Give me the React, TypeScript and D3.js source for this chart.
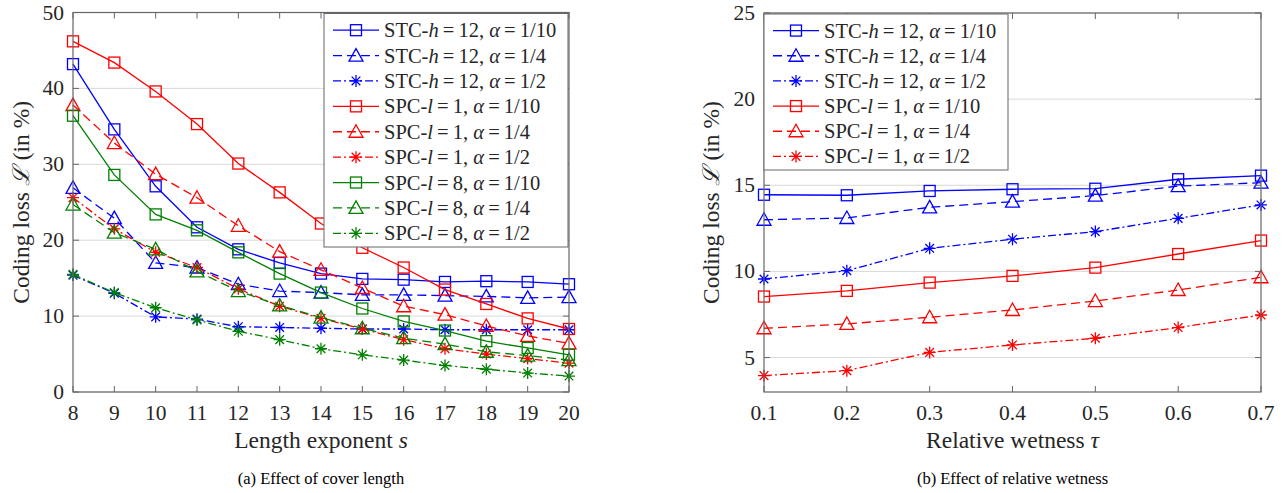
import React from 'react';
import * as d3 from 'd3';

// length exponent s (left panel)
const sValues = [8, 9, 10, 11, 12, 13, 14, 15, 16, 17, 18, 19, 20];
const stcH12A10 = [43.2, 34.6, 27.1, 21.7, 18.8, 17.0, 15.6, 14.9, 14.8, 14.5, 14.6, 14.5, 14.2];
const stcH12A4 = [26.9, 22.9, 17.0, 16.4, 14.2, 13.3, 13.1, 12.8, 12.8, 12.7, 12.6, 12.4, 12.5];
const stcH12A2 = [15.4, 13.0, 9.9, 9.6, 8.6, 8.5, 8.4, 8.3, 8.3, 8.2, 8.2, 8.2, 8.2];
const spcL1A10 = [46.2, 43.4, 39.6, 35.3, 30.1, 26.3, 22.2, 19.0, 16.4, 13.5, 11.6, 9.7, 8.3];
const spcL1A4 = [37.8, 32.8, 28.7, 25.6, 21.9, 18.5, 16.1, 13.7, 11.3, 10.2, 8.7, 7.4, 6.4];
const spcL1A2 = [25.6, 21.5, 18.4, 16.4, 13.6, 11.3, 9.7, 8.3, 6.9, 5.7, 5.0, 4.4, 3.8];
const spcL8A10 = [36.4, 28.6, 23.4, 21.3, 18.4, 15.6, 13.1, 11.0, 9.3, 8.1, 6.7, 5.8, 4.9];
const spcL8A4 = [24.7, 21.0, 18.8, 15.9, 13.3, 11.4, 9.8, 8.4, 7.1, 6.3, 5.3, 4.8, 4.2];
const spcL8A2 = [15.5, 13.1, 11.1, 9.5, 8.0, 6.9, 5.7, 4.9, 4.2, 3.5, 3.0, 2.5, 2.1];

// relative wetness tau (right panel)
const tauValues = [0.1, 0.2, 0.3, 0.4, 0.5, 0.6, 0.7];
const wetStcA10 = [14.45, 14.42, 14.67, 14.77, 14.8, 15.35, 15.56];
const wetStcA4 = [13.0, 13.1, 13.72, 14.05, 14.4, 14.95, 15.15];
const wetStcA2 = [9.56, 10.04, 11.34, 11.87, 12.31, 13.08, 13.86];
const wetSpcA10 = [8.54, 8.87, 9.35, 9.74, 10.22, 11.01, 11.79];
const wetSpcA4 = [6.7, 6.95, 7.34, 7.76, 8.28, 8.92, 9.66];
const wetSpcA2 = [3.95, 4.24, 5.3, 5.73, 6.12, 6.74, 7.47];

const leftYTicks = [0, 10, 20, 30, 40, 50];
const rightYTicks = [5, 10, 15, 20, 25];

type Marker = 'square' | 'triangle' | 'star';
type Series = { scheme: 'STC' | 'SPC'; param: string; alpha: string; color: string; dash: string; marker: Marker; values: number[] };

const BLUE = '#0000ff';
const RED = '#ff0000';
const GREEN = '#008000';
const DASHED = '9,5';
const DASHDOT = '8,3,2,3';

const leftSeries: Series[] = [
  { scheme: 'STC', param: 'h=12', alpha: '1/10', color: BLUE, dash: '', marker: 'square', values: stcH12A10 },
  { scheme: 'STC', param: 'h=12', alpha: '1/4', color: BLUE, dash: DASHED, marker: 'triangle', values: stcH12A4 },
  { scheme: 'STC', param: 'h=12', alpha: '1/2', color: BLUE, dash: DASHDOT, marker: 'star', values: stcH12A2 },
  { scheme: 'SPC', param: 'l=1', alpha: '1/10', color: RED, dash: '', marker: 'square', values: spcL1A10 },
  { scheme: 'SPC', param: 'l=1', alpha: '1/4', color: RED, dash: DASHED, marker: 'triangle', values: spcL1A4 },
  { scheme: 'SPC', param: 'l=1', alpha: '1/2', color: RED, dash: DASHDOT, marker: 'star', values: spcL1A2 },
  { scheme: 'SPC', param: 'l=8', alpha: '1/10', color: GREEN, dash: '', marker: 'square', values: spcL8A10 },
  { scheme: 'SPC', param: 'l=8', alpha: '1/4', color: GREEN, dash: DASHED, marker: 'triangle', values: spcL8A4 },
  { scheme: 'SPC', param: 'l=8', alpha: '1/2', color: GREEN, dash: DASHDOT, marker: 'star', values: spcL8A2 },
];

const rightSeries: Series[] = [
  { scheme: 'STC', param: 'h=12', alpha: '1/10', color: BLUE, dash: '', marker: 'square', values: wetStcA10 },
  { scheme: 'STC', param: 'h=12', alpha: '1/4', color: BLUE, dash: DASHED, marker: 'triangle', values: wetStcA4 },
  { scheme: 'STC', param: 'h=12', alpha: '1/2', color: BLUE, dash: DASHDOT, marker: 'star', values: wetStcA2 },
  { scheme: 'SPC', param: 'l=1', alpha: '1/10', color: RED, dash: '', marker: 'square', values: wetSpcA10 },
  { scheme: 'SPC', param: 'l=1', alpha: '1/4', color: RED, dash: DASHED, marker: 'triangle', values: wetSpcA4 },
  { scheme: 'SPC', param: 'l=1', alpha: '1/2', color: RED, dash: DASHDOT, marker: 'star', values: wetSpcA2 },
];

const FONT = '"Liberation Serif", "DejaVu Serif", serif';
const TXT = '#262626';
const AXIS = '#666666';
const GRID = '#d9d9d9';

function MarkerShape({ kind, x, y, color }: { kind: Marker; x: number; y: number; color: string }) {
  const common = { fill: 'none', stroke: color, strokeWidth: 1.3 };
  if (kind === 'square') {
    return <rect x={x - 5.5} y={y - 5.5} width={11} height={11} {...common} />;
  }
  if (kind === 'triangle') {
    return <path d={`M${x},${y - 7}L${x + 7},${y + 5.5}L${x - 7},${y + 5.5}Z`} {...common} />;
  }
  const r = 6;
  const d = r * 0.72;
  return (
    <path
      d={`M${x - r},${y}H${x + r}M${x},${y - r}V${y + r}M${x - d},${y - d}L${x + d},${y + d}M${x - d},${y + d}L${x + d},${y - d}`}
      {...common}
    />
  );
}

function LegendLabel({ s, x, y }: { s: Series; x: number; y: number }) {
  const [sym, num] = s.param.split('=');
  return (
    <text x={x} y={y} fontFamily={FONT} fontSize={20.5} fill={TXT} dominantBaseline="central">
      {s.scheme}-<tspan fontStyle="italic">{sym}</tspan>
      {'\u2009=\u2009'}{num}, <tspan fontStyle="italic">α</tspan>{'\u2009=\u2009'}{s.alpha}
    </text>
  );
}

type PanelProps = {
  left: number; right: number; top: number; bottom: number;
  xValues: number[]; xFormat: (v: number) => string; yDomain: [number, number]; yTicks: number[];
  series: Series[]; legendRight: number; legendLeft: number; legendBottom: number;
  xLabel: React.ReactNode; caption: string; yLabelX: number;
};

function Panel(p: PanelProps) {
  const x = d3.scaleLinear().domain(d3.extent(p.xValues) as [number, number]).range([p.left, p.right]);
  const y = d3.scaleLinear().domain(p.yDomain).range([p.bottom, p.top]);
  const line = d3.line<number>().x((_, i) => x(p.xValues[i])).y(v => y(v));
  const tick = 6;
  const rowH = (p.legendBottom - p.top - 6) / p.series.length;
  const cx = (p.left + p.right) / 2;
  return (
    <g>
      {p.yTicks.map(t => (
        <line key={'g' + t} x1={p.left} x2={p.right} y1={y(t)} y2={y(t)} stroke={GRID} strokeWidth={1} />
      ))}
      {p.series.map((s, i) => (
        <g key={'s' + i}>
          <path d={line(s.values) || ''} fill="none" stroke={s.color} strokeWidth={1.3} strokeDasharray={s.dash} />
          {s.values.map((v, j) => (
            <MarkerShape key={j} kind={s.marker} x={x(p.xValues[j])} y={y(v)} color={s.color} />
          ))}
        </g>
      ))}
      <rect x={p.left} y={p.top} width={p.right - p.left} height={p.bottom - p.top} fill="none" stroke={AXIS} strokeWidth={1.2} />
      {p.xValues.map(v => (
        <g key={'x' + v}>
          <line x1={x(v)} x2={x(v)} y1={p.bottom} y2={p.bottom - tick} stroke={AXIS} />
          <line x1={x(v)} x2={x(v)} y1={p.top} y2={p.top + tick} stroke={AXIS} />
          <text x={x(v)} y={p.bottom + 28} textAnchor="middle" fontFamily={FONT} fontSize={21.5} fill={TXT}>
            {p.xFormat(v)}
          </text>
        </g>
      ))}
      {p.yTicks.map(t => (
        <g key={'y' + t}>
          <line x1={p.left} x2={p.left + tick} y1={y(t)} y2={y(t)} stroke={AXIS} />
          <line x1={p.right} x2={p.right - tick} y1={y(t)} y2={y(t)} stroke={AXIS} />
          <text x={p.left - 9} y={y(t)} textAnchor="end" dominantBaseline="central" fontFamily={FONT} fontSize={21.5} fill={TXT}>
            {t}
          </text>
        </g>
      ))}
      <text x={cx} y={p.bottom + 56} textAnchor="middle" fontFamily={FONT} fontSize={23.5} fill={TXT}>
        {p.xLabel}
      </text>
      <text x={cx} y={p.bottom + 92} textAnchor="middle" fontFamily={FONT} fontSize={16.5} fill="#000">
        {p.caption}
      </text>
      <text
        transform={`translate(${p.yLabelX},${(p.top + p.bottom) / 2}) rotate(-90)`}
        textAnchor="middle" fontFamily={FONT} fontSize={23.5} fill={TXT}
      >
        Coding loss <tspan fontStyle="italic">ℒ</tspan> (in %)
      </text>
      <rect x={p.legendLeft} y={p.top + 1} width={p.legendRight - p.legendLeft} height={p.legendBottom - p.top - 1}
        fill="#fff" stroke={AXIS} strokeWidth={1} />
      {p.series.map((s, i) => {
        const ry = p.top + 4 + rowH * (i + 0.5) + 1;
        const lx = p.legendLeft + 9;
        return (
          <g key={'l' + i}>
            <line x1={lx} x2={lx + 46} y1={ry} y2={ry} stroke={s.color} strokeWidth={1.3} strokeDasharray={s.dash} />
            <MarkerShape kind={s.marker} x={lx + 23} y={ry} color={s.color} />
            <LegendLabel s={s} x={lx + 51} y={ry} />
          </g>
        );
      })}
    </g>
  );
}

export default function App() {
  return (
    <svg width={1285} height={493} style={{ position: 'absolute', left: 0, top: 0, background: '#fff' }}>
      <Panel
        left={73} right={569} top={12.5} bottom={392}
        xValues={sValues} xFormat={v => String(v)} yDomain={[0, 50]} yTicks={leftYTicks}
        series={leftSeries} legendLeft={324} legendRight={568} legendBottom={247}
        xLabel={<>Length exponent <tspan fontStyle="italic">s</tspan></>}
        caption="(a) Effect of cover length" yLabelX={29}
      />
      <Panel
        left={764} right={1261} top={13} bottom={392}
        xValues={tauValues} xFormat={v => v.toFixed(1)} yDomain={[3, 25]} yTicks={rightYTicks}
        series={rightSeries} legendLeft={764} legendRight={1008} legendBottom={170}
        xLabel={<>Relative wetness <tspan fontStyle="italic">τ</tspan></>}
        caption="(b) Effect of relative wetness" yLabelX={719}
      />
    </svg>
  );
}
